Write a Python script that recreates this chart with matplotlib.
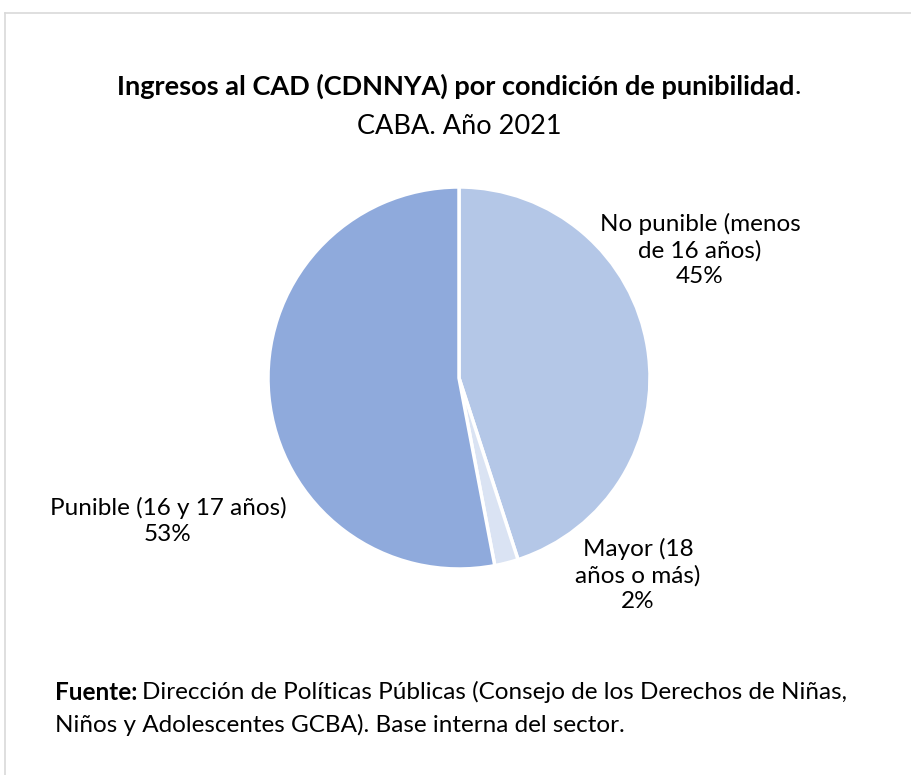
import matplotlib.pyplot as plt
from matplotlib.lines import Line2D

plt.rcParams['font.family'] = ['Lato', 'DejaVu Sans']

# data
labels = ['No punible (menos\nde 16 años)', 'Mayor (18\naños o más)', 'Punible (16 y 17 años)']
values = [45, 2, 53]
colors = ['#B4C7E7', '#DAE3F3', '#8FAADC']

W, H = 911, 775
fig = plt.figure(figsize=(W / 100, H / 100), dpi=100)

# frame (only left and top visible in the reference)
fig.add_artist(Line2D([5 / W, 5 / W], [0, 1 - 13 / H], color='#D9D9D9', lw=1.2, transform=fig.transFigure))
fig.add_artist(Line2D([5 / W, 1], [1 - 13 / H, 1 - 13 / H], color='#D9D9D9', lw=1.2, transform=fig.transFigure))

cx, cy, r = 459, 378, 191
ax = fig.add_axes([(cx - r) / W, 1 - (cy + r) / H, 2 * r / W, 2 * r / H])
wedges, _ = ax.pie(values, colors=colors, startangle=90, counterclock=False,
                   wedgeprops=dict(edgecolor='white', linewidth=2.5))
ax.set_xlim(-1, 1)
ax.set_ylim(-1, 1)
ax.set_aspect('auto')

fs = 17.5
txt_pos = [(700, 250), (638, 575), (168, 521)]
for lab, v, (x, y) in zip(labels, values, txt_pos):
    fig.text(x / W, 1 - y / H, f'{lab}\n{v}%', ha='center', va='center',
             fontsize=fs, color='#000000', linespacing=1.3)

renderer = fig.canvas.get_renderer()

# title: bold part + normal period, centred as a whole
tfs = 19.5
t1 = fig.text(0, 0, 'Ingresos al CAD (CDNNYA) por condición de punibilidad',
              fontsize=tfs, fontweight='bold', va='center')
t2 = fig.text(0, 0, '.', fontsize=tfs, va='center')
w1 = t1.get_window_extent(renderer).width
w2 = t2.get_window_extent(renderer).width
x0 = 459 - (w1 + w2) / 2
t1.set_position((x0 / W, 1 - 86 / H))
t2.set_position(((x0 + w1) / W, 1 - 86 / H))
fig.text(459 / W, 1 - 126 / H, 'CABA. Año 2021', fontsize=tfs, ha='center', va='center')

# source note
f1 = fig.text(55 / W, 1 - 692 / H, 'Fuente:', fontsize=fs, fontweight='bold', va='center')
wf = f1.get_window_extent(renderer).width
fig.text((55 + wf + 5) / W, 1 - 692 / H,
         'Dirección de Políticas Públicas (Consejo de los Derechos de Niñas,',
         fontsize=fs, va='center')
fig.text(55 / W, 1 - 725 / H, 'Niños y Adolescentes GCBA). Base interna del sector.',
         fontsize=fs, va='center')

fig.savefig('out.png', dpi=100)
